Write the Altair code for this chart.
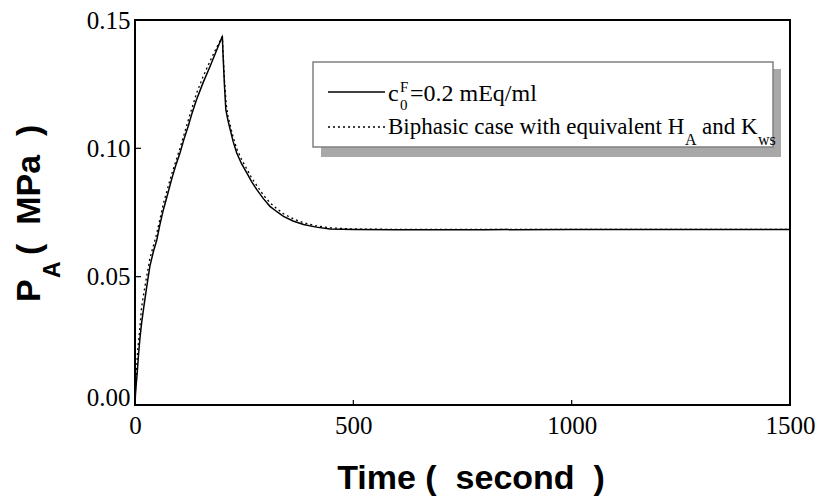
import altair as alt
import pandas as pd

# Pressure P_A (MPa) against time (s): ramp loading to 200 s, then relaxation
time_fixed_charge = [0, 1, 3, 5, 8, 11, 15, 20, 27, 34, 42, 50, 57, 65, 75, 84, 93,
                     103, 112, 122, 131, 141, 156, 172, 186, 200,
                     202, 205, 208, 213, 218, 225, 233, 244, 256, 267, 279, 294,
                     309, 325, 340, 362, 386, 415, 447, 500,
                     600, 800, 1000, 1200, 1500]
p_fixed_charge = [0.0, 0.004, 0.0085, 0.0124, 0.0195, 0.0254, 0.0318, 0.038, 0.0462,
                  0.054, 0.0597, 0.0644, 0.0703, 0.0761, 0.0823, 0.088, 0.0932,
                  0.0982, 0.1035, 0.1087, 0.1139, 0.119, 0.1256, 0.132, 0.1378, 0.1437,
                  0.135, 0.1242, 0.1151, 0.1108, 0.1073, 0.1025, 0.0982, 0.0940,
                  0.0904, 0.0870, 0.0839, 0.0804, 0.0774, 0.0753, 0.0735, 0.0717,
                  0.0703, 0.0693, 0.0686, 0.0684,
                  0.0683, 0.0683, 0.0684, 0.0684, 0.0684]

time_biphasic = [0, 1, 3, 6, 10, 15, 23, 34, 50, 65, 84, 103, 122, 141, 156, 172,
                 186, 200, 205, 209, 213, 218, 225, 233, 244, 256, 267, 279, 294,
                 309, 325, 340, 362, 386, 415, 447, 500, 600, 800, 1000, 1200, 1500]
p_biphasic = [0.0, 0.006, 0.012, 0.021, 0.028, 0.038, 0.0465, 0.057, 0.067, 0.0785,
              0.090, 0.100, 0.111, 0.1215, 0.128, 0.134, 0.139, 0.1435,
              0.126, 0.117, 0.1125, 0.109, 0.1042, 0.0998, 0.0957, 0.0920, 0.0885,
              0.0855, 0.0818, 0.0788, 0.0765, 0.0745, 0.0726, 0.0710, 0.0698,
              0.0690, 0.0686, 0.0684, 0.0684, 0.0684, 0.0684, 0.0684]

x_ticks = [0, 500, 1000, 1500]
y_ticks = [0.0, 0.05, 0.10, 0.15]
x_inner_ticks = [500, 1000]
y_inner_ticks = [0.05, 0.10]

W, H = 655, 385
SERIF = "Liberation Serif"
SANS = "Liberation Sans"

df = pd.concat([
    pd.DataFrame({"t": time_fixed_charge, "p": p_fixed_charge, "series": "fixed"}),
    pd.DataFrame({"t": time_biphasic, "p": p_biphasic, "series": "biphasic"}),
])

x_scale = alt.Scale(domain=[0, 1500], nice=False, zero=False)
y_scale = alt.Scale(domain=[0, 0.15], nice=False, zero=False)

x_axis = alt.Axis(values=x_ticks, title=None, ticks=False, domain=False, grid=False,
                  labelFont=SERIF, labelFontSize=25, labelColor="black",
                  labelPadding=8, labelFlush=False, format="d")
y_axis = alt.Axis(values=y_ticks, title=None, ticks=False, domain=False, grid=False,
                  labelFont=SERIF, labelFontSize=25, labelColor="black",
                  labelPadding=5, labelFlush=False, format=".2f",
                  labelOffset={"condition": {"test": "datum.value == 0", "value": -8},
                               "value": 0})

base = alt.Chart(df).encode(
    x=alt.X("t:Q", scale=x_scale, axis=x_axis),
    y=alt.Y("p:Q", scale=y_scale, axis=y_axis),
    order="t:Q",
)

solid = base.transform_filter("datum.series == 'fixed'").mark_line(
    color="black", strokeWidth=1.5)
dotted = base.transform_filter("datum.series == 'biphasic'").mark_line(
    color="black", strokeWidth=1.3, strokeDash=[2, 3])

# inward tick marks on the bottom and left frame
xt = alt.Chart(pd.DataFrame({"t": x_inner_ticks})).mark_rule(
    color="black", strokeWidth=1.2).encode(
    x=alt.X("t:Q", scale=x_scale), y=alt.value(H), y2=alt.value(H - 5))
yt = alt.Chart(pd.DataFrame({"p": y_inner_ticks})).mark_rule(
    color="black", strokeWidth=1.2).encode(
    y=alt.Y("p:Q", scale=y_scale), x=alt.value(0), x2=alt.value(6))

one = alt.Data(values=[{}])


def text(s, x, y, size, font=SERIF, weight="normal", angle=0, align="left"):
    return alt.Chart(one).mark_text(
        text=s, font=font, fontSize=size, fontWeight=weight, angle=angle,
        align=align, baseline="alphabetic", color="black").encode(
        x=alt.value(x), y=alt.value(y))


def rect(x, x2, y, y2, fill, stroke=None, sw=0):
    kw = dict(fill=fill, strokeWidth=sw)
    if stroke:
        kw["stroke"] = stroke
    return alt.Chart(one).mark_rect(**kw).encode(
        x=alt.value(x), x2=alt.value(x2), y=alt.value(y), y2=alt.value(y2))


def seg(x, x2, y, dash=None):
    kw = dict(color="black", strokeWidth=1.3)
    if dash:
        kw["strokeDash"] = dash
    return alt.Chart(one).mark_rule(**kw).encode(
        x=alt.value(x), x2=alt.value(x2), y=alt.value(y))


# legend box with drop shadow
legend = [
    rect(186, 646, 49, 137, "#a8a8a8"),
    rect(178, 638, 42, 127, "white", "#808080", 1.5),
    seg(193, 250, 72),
    seg(193, 250, 107, [2, 3]),
    text("c", 253, 81, 24),
    text("F", 265, 72, 15),
    text("0", 265, 90, 15),
    text("=0.2 mEq/ml", 275, 81, 24),
    text("Biphasic case with equivalent H", 253, 114, 23),
    text("A", 550, 125, 16),
    text("and K", 567, 114, 23),
    text("ws", 623, 125, 16),
]

titles = [
    text("Time (\u00a0\u00a0second\u00a0\u00a0)", 336, 469, 34, SANS, "bold", align="center"),
    text("P", -95, 282, 34, SANS, "bold", angle=270),
    text("A", -75, 258, 23, SANS, "bold", angle=270),
    text("(\u00a0\u00a0MPa\u00a0\u00a0)", -95, 235, 34, SANS, "bold", angle=270),
]

chart = alt.layer(solid, dotted, xt, yt, *legend, *titles).properties(
    width=W, height=H,
    padding={"left": 135, "top": 20, "right": 29, "bottom": 92},
    autosize=alt.AutoSizeParams(type="none"),
    background="white",
).configure_view(stroke="black", strokeWidth=2)

chart.save("out.html", embed_options={"renderer": "svg", "actions": False})
